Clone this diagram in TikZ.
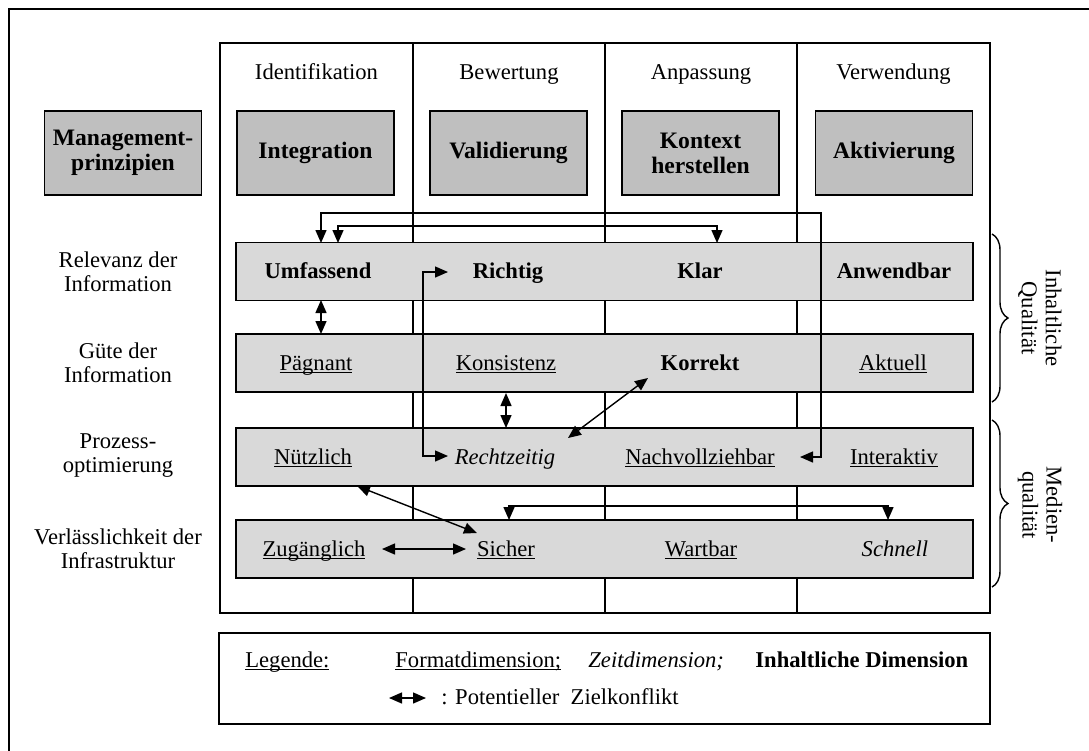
\documentclass[tikz,border=0pt]{standalone}
\usepackage{fontspec}
\setmainfont{Liberation Serif}
\usetikzlibrary{arrows.meta,decorations.pathreplacing}
\definecolor{rowgray}{gray}{0.85}
\definecolor{headgray}{gray}{0.75}
% underline sitting just below the baseline, through descenders
\newcommand\ulin[1]{\underline{\smash{#1}}}
\begin{document}
\begin{tikzpicture}[x=0.5pt,y=-0.5pt,
  every node/.style={font=\fontsize{11.3pt}{12pt}\selectfont, inner sep=0pt},
  frame/.style={line width=0.8pt},
  rowbox/.style={draw, line width=0.8pt, fill=rowgray, minimum width=368.5pt, minimum height=29pt},
  headbox/.style={draw, line width=0.8pt, fill=headgray, minimum width=78.5pt, minimum height=42pt,
                  align=center, font=\fontsize{11.8pt}{12.5pt}\selectfont\bfseries},
  side/.style={align=center},
  entry/.style={anchor=base},
  tip/.tip={Triangle[length=6.5pt,width=5.5pt]},
  conn/.style={line width=0.7pt, tip-tip},
  grp/.style={decorate, decoration={brace, amplitude=8pt}, line width=0.7pt}
]
\useasboundingbox (0,0) rectangle (1089,751);

% outer frame
\draw[frame] (1089,9) -- (9,9) -- (9,751);

% phase grid
\draw[frame] (220,43) rectangle (990,613);
\foreach \x in {413,605,797} \draw[frame] (\x,43) -- (\x,613);

% phase titles
\node[entry] (hIdent) at (316.5,79) {Identifikation};
\node[entry] (hBew)   at (509,79)   {Bewertung};
\node[entry] (hAnp)   at (701,79)   {Anpassung};
\node[entry] (hVerw)  at (893.5,79) {Verwendung};

% management principles
\node[headbox] (mgmt)    at (123,153)   {Management-\\prinzipien};
\node[headbox] (integ)   at (315.5,153) {Integration};
\node[headbox] (valid)   at (508.5,153) {Validierung};
\node[headbox] (kontext) at (700.5,153) {Kontext\\herstellen};
\node[headbox] (aktiv)   at (894,153)   {Aktivierung};

% quality rows
\node[rowbox] (r1) at (604.5,271.5) {};
\node[rowbox] (r2) at (604.5,363)   {};
\node[rowbox] (r3) at (604.5,457)   {};
\node[rowbox] (r4) at (604.5,549)   {};

% row labels
\node[side] (lab1) at (118,272) {Relevanz der\\Information};
\node[side] (lab2) at (118,363) {Güte der\\Information};
\node[side] (lab3) at (118,456) {Prozess-\\optimierung};
\node[side] (lab4) at (118,549) {Verlässlichkeit der\\Infrastruktur};

% row entries
\node[entry] (umf)  at (318,278.5) {\textbf{Umfassend}};
\node[entry] (rich) at (508,278.5) {\textbf{Richtig}};
\node[entry] (klar) at (700,278.5) {\textbf{Klar}};
\node[entry] (anw)  at (894,278.5) {\textbf{Anwendbar}};

\node[entry] (praeg) at (316,370) {\ulin{Pägnant}};
\node[entry] (kons)  at (506,370) {\ulin{Konsistenz}};
\node[entry] (korr)  at (700,370) {\textbf{Korrekt}};
\node[entry] (akt)   at (893,370) {\ulin{Aktuell}};

\node[entry] (nuetz) at (313,464) {\ulin{Nützlich}};
\node[entry] (rzeit) at (505,464) {\textit{Rechtzeitig}};
\node[entry] (nachv) at (700,464) {\ulin{Nachvollziehbar}};
\node[entry] (inter) at (894,464) {\ulin{Interaktiv}};

\node[entry] (zug)    at (314,556) {\ulin{Zugänglich}};
\node[entry] (sicher) at (506,556) {\ulin{Sicher}};
\node[entry] (wart)   at (701,556) {\ulin{Wartbar}};
\node[entry] (schn)   at (895,556) {\textit{Schnell}};

% connector end points
\coordinate (umfA)   at (321,243);
\coordinate (umfB)   at (338,243);
\coordinate (klarA)  at (717,243);
\coordinate (nachvA) at (800,457);
\coordinate (umfC)   at (321,300);
\coordinate (praegA) at (321,334);
\coordinate (richA)  at (448,272);
\coordinate (rzeitA) at (448,456);
\coordinate (konsA)  at (506,393);
\coordinate (rzeitB) at (506,428);
\coordinate (korrA)  at (648,378);
\coordinate (rzeitC) at (568,438);
\coordinate (nuetzA) at (357,486);
\coordinate (sichA)  at (477,533);
\coordinate (zugA)   at (382,549);
\coordinate (sichB)  at (466,549);
\coordinate (sichC)  at (509,520);
\coordinate (schnA)  at (888,520);

% goal conflicts
\draw[conn] (umfB) -- (338,226) -- (717,226) -- (klarA);
\draw[conn] (umfA) -- (321,213) -- (821,213) -- (821,457) -- (nachvA);
\draw[conn] (umfC) -- (praegA);
\draw[conn] (richA) -- (423,272) -- (423,456) -- (rzeitA);
\draw[conn] (konsA) -- (rzeitB);
\draw[conn] (korrA) -- (rzeitC);
\draw[conn] (nuetzA) -- (sichA);
\draw[conn] (zugA) -- (sichB);
\draw[conn] (sichC) -- (509,506) -- (888,506) -- (schnA);

% quality groups
\draw[grp] (992,234) -- (992,402);
\draw[grp] (992,420) -- (992,587);
\node[rotate=-90, align=center] (qInh) at (1040,318) {Inhaltliche\\Qualität};
\node[rotate=-90, align=center] (qMed) at (1040,505) {Medien-\\qualität};

% legend
\draw[frame] (219,633) rectangle (990,724);
\node[anchor=base west] (legT) at (245,667) {\ulin{Legende:}};
\node[anchor=base west] (legF) at (395,667) {\ulin{Formatdimension;}};
\node[anchor=base west] (legZ) at (588,667) {\textit{Zeitdimension;}};
\node[anchor=base west] (legI) at (755,667) {\textbf{Inhaltliche Dimension}};
\coordinate (legA) at (389,698);
\coordinate (legB) at (426,698);
\draw[conn] (legA) -- (legB);
\node[anchor=base west] (legK) at (441,704) {: Potentieller\ \ Zielkonflikt};
\end{tikzpicture}
\end{document}
